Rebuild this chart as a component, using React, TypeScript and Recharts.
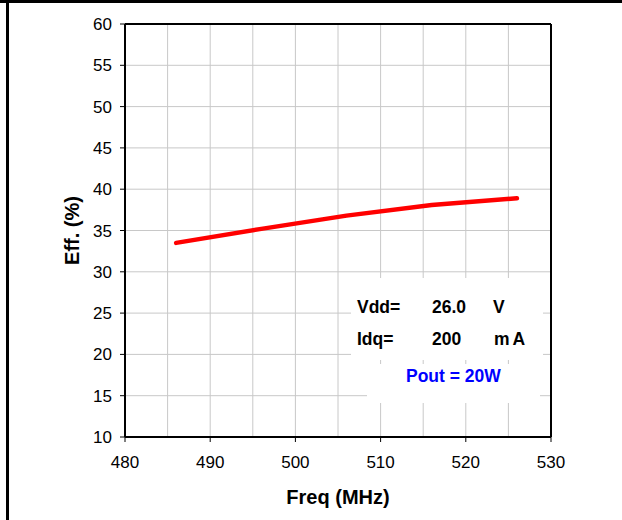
import React from 'react';
import {
  LineChart,
  Line,
  XAxis,
  YAxis,
  CartesianGrid,
  ReferenceLine,
} from 'recharts';

// measured efficiency vs frequency, Pout = 20W
const freqMHz = [486, 496, 506, 516, 526];
const effPct = [33.5, 35.2, 36.8, 38.1, 38.9];

const xTicks = [480, 490, 500, 510, 520, 530];
const yTicks = [10, 15, 20, 25, 30, 35, 40, 45, 50, 55, 60];
const xGrid = [485, 490, 495, 500, 505, 510, 515, 520, 525];

const data = freqMHz.map((f, i) => ({ freq: f, eff: effPct[i] }));

const FONT = '"Liberation Sans", Arial, sans-serif';

export default function App() {
  return (
    <div style={{ position: 'absolute', left: 0, top: 0, width: 622, height: 520, background: '#fff', fontFamily: FONT }}>
      <div style={{ position: 'absolute', left: 0, top: 0, width: 622, height: 3, background: '#000' }} />
      <div style={{ position: 'absolute', left: 6, top: 0, width: 2.5, height: 520, background: '#000' }} />
      <LineChart
        width={622}
        height={520}
        data={data}
        margin={{ top: 24, right: 71, left: 65, bottom: 8 }}
      >
        <CartesianGrid stroke="#c8c8c8" strokeWidth={1} vertical={false} />
        {xGrid.map((v) => (
          <ReferenceLine key={v} x={v} stroke="#c8c8c8" strokeWidth={1} />
        ))}
        <XAxis
          dataKey="freq"
          type="number"
          domain={[480, 530]}
          ticks={xTicks}
          interval={0}
          height={75}
          axisLine={{ stroke: '#000', strokeWidth: 2 }}
          tickLine={{ stroke: '#000', strokeWidth: 1 }}
          tickSize={5}
          tickMargin={14}
          tick={{ fontSize: 17, fill: '#000', fontFamily: FONT }}
          label={{ value: 'Freq (MHz)', position: 'insideBottom', offset: 8, style: { fontSize: 20, fontWeight: 700, fill: '#000', fontFamily: FONT } }}
        />
        <YAxis
          type="number"
          domain={[10, 60]}
          ticks={yTicks}
          interval={0}
          width={60}
          axisLine={{ stroke: '#000', strokeWidth: 2 }}
          tickLine={{ stroke: '#000', strokeWidth: 1 }}
          tickSize={5}
          tickMargin={8}
          tick={{ fontSize: 17, fill: '#000', fontFamily: FONT }}
          label={{ value: 'Eff. (%)', angle: -90, position: 'insideLeft', offset: 4, dx: 3, style: { textAnchor: 'middle', fontSize: 20, fontWeight: 700, fill: '#000', fontFamily: FONT } }}
        />
        <ReferenceLine y={60} stroke="#000" strokeWidth={2} />
        <ReferenceLine x={530} stroke="#000" strokeWidth={2} />
        <Line
          dataKey="eff"
          type="linear"
          stroke="#ff0000"
          strokeWidth={4.5}
          strokeLinecap="round"
          strokeLinejoin="round"
          dot={false}
          isAnimationActive={false}
        />
      </LineChart>
      <div style={{ position: 'absolute', left: 351, top: 278, width: 192, height: 82, background: '#fff' }} />
      <div style={{ position: 'absolute', left: 367, top: 364, width: 173, height: 39, background: '#fff' }} />
      <div style={{ position: 'absolute', left: 0, top: 0, fontSize: 17.5, fontWeight: 700, color: '#000', lineHeight: '20px' }}>
        <span style={{ position: 'absolute', left: 357, top: 297 }}>Vdd=</span>
        <span style={{ position: 'absolute', left: 432, top: 297 }}>26.0</span>
        <span style={{ position: 'absolute', left: 493, top: 297 }}>V</span>
        <span style={{ position: 'absolute', left: 357, top: 329 }}>Idq=</span>
        <span style={{ position: 'absolute', left: 432, top: 329 }}>200</span>
        <span style={{ position: 'absolute', left: 494, top: 329, letterSpacing: 3, whiteSpace: 'nowrap' }}>mA</span>
        <span style={{ position: 'absolute', left: 406, top: 366, color: '#0000ff', whiteSpace: 'nowrap' }}>Pout = 20W</span>
      </div>
    </div>
  );
}
